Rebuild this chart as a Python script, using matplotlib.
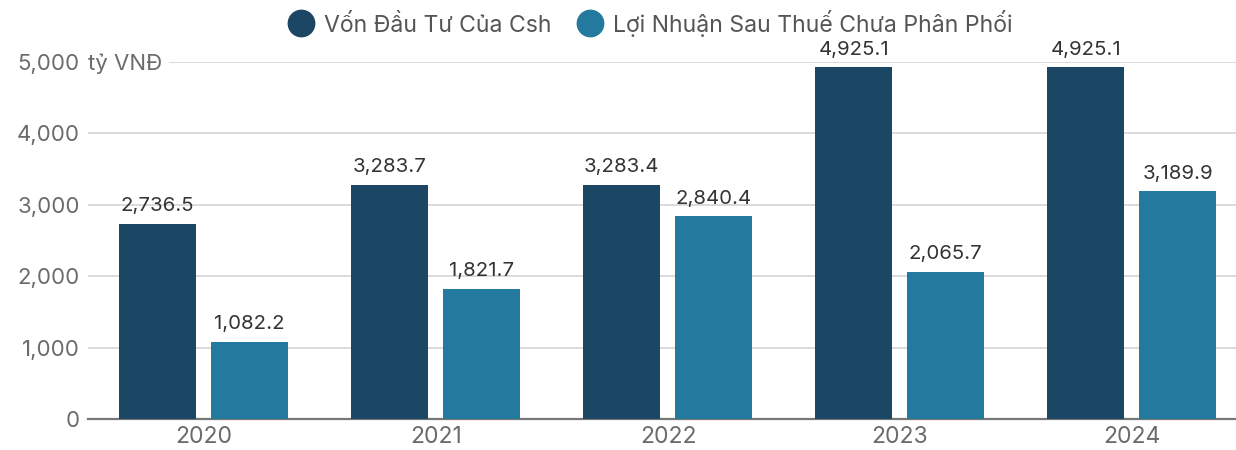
import matplotlib.pyplot as plt
import numpy as np
from matplotlib.lines import Line2D

years = ["2020", "2021", "2022", "2023", "2024"]
von_dau_tu = [2736.5, 3283.7, 3283.4, 4925.1, 4925.1]
loi_nhuan = [1082.2, 1821.7, 2840.4, 2065.7, 3189.9]
series_names = ["Vốn Đầu Tư Của Csh", "Lợi Nhuận Sau Thuế Chưa Phân Phối"]
colors = ["#1b4664", "#24799f"]

plt.rcParams['font.family'] = ['Inter', 'DejaVu Sans']

fig = plt.figure(figsize=(12.36, 4.5), dpi=100)
ax = fig.add_axes([0.0712, 0.069, 0.9288, 0.793])

x = np.arange(len(years))
w = 0.332
for vals, off, c in [(von_dau_tu, -0.2, colors[0]), (loi_nhuan, 0.196, colors[1])]:
    bars = ax.bar(x + off, vals, width=w, color=c, zorder=3)
    for b, v in zip(bars, vals):
        ax.text(b.get_x() + b.get_width() / 2, v + 120, f"{v:,.1f}",
                ha='center', va='bottom', fontsize=14.7, color='#333333', clip_on=False)

ax.set_xlim(-0.5, 4.448)
ax.set_ylim(0, 5000)
ax.set_yticks([0, 1000, 2000, 3000, 4000, 5000])
ax.set_yticklabels(["0", "1,000", "2,000", "3,000", "4,000", "5,000"])
ax.set_xticks(x)
ax.set_xticklabels(years)
ax.tick_params(axis='both', length=0, labelcolor='#6b6b6b')
ax.tick_params(axis='y', pad=6, labelsize=16)
ax.tick_params(axis='x', pad=5, labelsize=16.5)
ax.yaxis.grid(True, color='#d4d4d4', linewidth=1.2, zorder=0)
ax.set_axisbelow(True)
for s in ['top', 'right', 'left']:
    ax.spines[s].set_visible(False)
ax.spines['bottom'].set_color('#777777')
ax.spines['bottom'].set_linewidth(1.6)

# unit label next to top tick, covering the gridline start
ax.text(0.0, 5000, "tỷ VNĐ", transform=ax.get_yaxis_transform(), ha='left', va='center_baseline',
        fontsize=16, color='#6b6b6b', clip_on=False,
        bbox=dict(facecolor='white', edgecolor='none', pad=5), zorder=5)

handles = [Line2D([], [], marker='o', linestyle='none', markersize=19,
                  markerfacecolor=c, markeredgecolor=c) for c in colors]
fig.legend(handles, series_names, loc='upper center', bbox_to_anchor=(0.522, 1.025),
           ncol=2, frameon=False, fontsize=16.6, labelcolor='#555555',
           handletextpad=0.0, columnspacing=0.7)

fig.savefig("out.png", dpi=100)
